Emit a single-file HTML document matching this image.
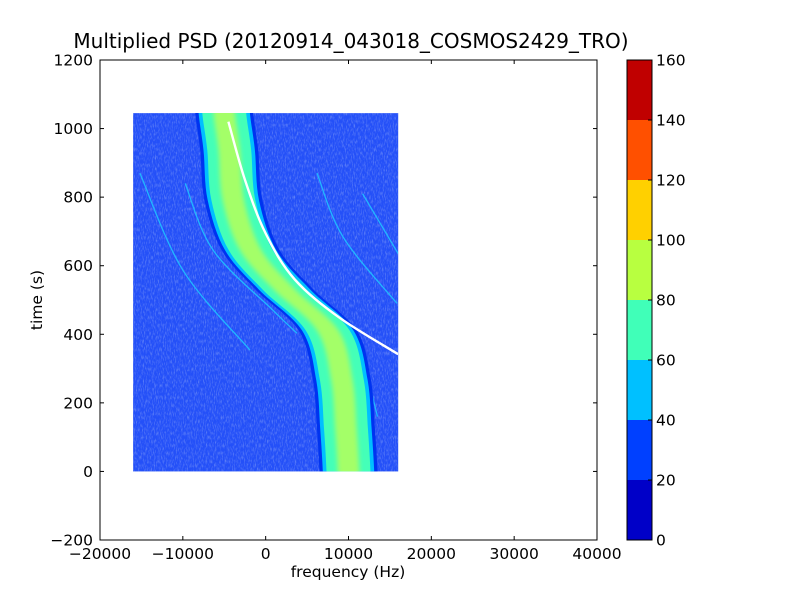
<!DOCTYPE html>
<html><head><meta charset="utf-8"><style>
body{margin:0;background:#fff}
svg{display:block;font-family:"DejaVu Sans","Liberation Sans",sans-serif}
</style></head><body>
<svg id="c" width="800" height="600" xmlns="http://www.w3.org/2000/svg">
<defs>
<filter id="noise" x="0" y="0" width="100%" height="100%">
<feTurbulence type="fractalNoise" baseFrequency="0.9 0.25" numOctaves="2" seed="3"/>
<feColorMatrix type="matrix" values="0 0 0 0 0.3  0 0 0 0 0.42  0 0 0 0 0.92  0 0 0 2.2 -1.0"/>
</filter>
<filter id="blur1"><feGaussianBlur stdDeviation="2.5"/></filter>
<clipPath id="dclip"><rect x="133.5" y="113" width="264.5" height="358.4"/></clipPath>
</defs>
<rect width="800" height="600" fill="#fff"/>
<text x="351" y="48" font-size="20" text-anchor="middle">Multiplied PSD (20120914_043018_COSMOS2429_TRO)</text>
<g id="plot"></g>
<g id="axes"></g>
<g id="cbar"></g>
<text x="348" y="577" font-size="15.5" text-anchor="middle">frequency (Hz)</text>
<text x="42" y="300" font-size="15.5" text-anchor="middle" transform="rotate(-90 42 300)">time (s)</text>
</svg>
<script>
// data
const bandTimes = [0, 121, 267, 411, 530, 645, 791, 937, 1045];
const bandCenters = [10000, 9700, 9200, 7500, 2300, -1800, -3900, -4400, -5000];
const bandHalfWidth = [3500, 3100, 2650, 1300]; // outer->inner layer half widths (Hz)
const bandColors = ["#0033f0", "#00bfff", "#44ffb8", "#a4ff68"];
const whiteFreq = [-4500, -2500, 0, 3500, 9000, 16000];
const whiteTime = [1020, 850, 694, 560, 447, 342];
const faintLines = [
  {f:[-15180,-9990,-1900], t:[870,587,354]},
  {f:[-9720,-6340,880,3780], t:[840,645,470,403]},
  {f:[6200,9330,15860], t:[870,684,490]},
  {f:[11700,16000], t:[810,635]},
  {f:[11300,13500], t:[375,160]}
];
const dataExtentF = [-16000, 16000];
const dataExtentT = [0, 1045];
const xTicks = [-20000,-10000,0,10000,20000,30000,40000];
const yTicks = [-200,0,200,400,600,800,1000,1200];
const cbarLevels = [0,20,40,60,80,100,120,140,160];
const cbarColors = ["#0000c8","#0040ff","#00c0ff","#40ffb8","#b8ff40","#ffd000","#ff5000","#c00000"];

const NS="http://www.w3.org/2000/svg";
const L=100,R=597,T=60,B=540;
const X=f=>L+(f+20000)/60000*(R-L);
const Y=t=>B-(t+200)/1400*(B-T);
function mk(tag,attrs,parent){const e=document.createElementNS(NS,tag);for(const k in attrs)e.setAttribute(k,attrs[k]);parent.appendChild(e);return e;}
const plot=document.getElementById('plot'), axes=document.getElementById('axes'), cb=document.getElementById('cbar');

function cr(pts,move){
  let d=(move?'M':'L')+pts[0][0].toFixed(1)+','+pts[0][1].toFixed(1);
  for(let i=0;i<pts.length-1;i++){
    const p0=pts[Math.max(0,i-1)],p1=pts[i],p2=pts[i+1],p3=pts[Math.min(pts.length-1,i+2)];
    const c1=[p1[0]+(p2[0]-p0[0])/6,p1[1]+(p2[1]-p0[1])/6];
    const c2=[p2[0]-(p3[0]-p1[0])/6,p2[1]-(p3[1]-p1[1])/6];
    d+=' C'+c1[0].toFixed(1)+','+c1[1].toFixed(1)+' '+c2[0].toFixed(1)+','+c2[1].toFixed(1)+' '+p2[0].toFixed(1)+','+p2[1].toFixed(1);
  }
  return d;
}
const bx=X(dataExtentF[0]), by=Y(dataExtentT[1]), bw=X(dataExtentF[1])-bx, bh=Y(dataExtentT[0])-by;
const bg=mk('rect',{x:bx,y:by,width:bw,height:bh,fill:'#2450f8'},plot);


const nz=mk('rect',{x:bx,y:by,width:bw,height:bh,filter:'url(#noise)',opacity:'0.6'},plot);



const g=mk('g',{'clip-path':'url(#dclip)'},plot);
faintLines.forEach((ln,i)=>{
  const p=mk('path',{d:cr(ln.f.map((f,j)=>[X(f),Y(ln.t[j])]),true),fill:'none',stroke:'#20b8ff',"stroke-width":'1.3'},g);
  
  
});
bandHalfWidth.forEach((hw,k)=>{
  const ext=[[bandCenters[0],-60]].concat(bandCenters.map((c,i)=>[c,bandTimes[i]])).concat([[bandCenters[bandCenters.length-1],1110]]);
  const left=ext.map(p=>[X(p[0]-hw),Y(p[1])]);
  const right=ext.map(p=>[X(p[0]+hw),Y(p[1])]).reverse();
  const d=cr(left,true)+' '+cr(right,false)+' Z';
  const attrs={d:d,fill:bandColors[k]};
  if(k===3){attrs.filter='url(#blur1)';}
  const p=mk('path',attrs,g);
  
  
});
const w=mk('path',{d:cr(whiteFreq.map((f,i)=>[X(f),Y(whiteTime[i])]),true),fill:'none',stroke:'#ffffff',"stroke-width":'2.4'},g);



const fr=mk('rect',{x:L,y:T,width:R-L,height:B-T,fill:'none',stroke:'#000'},axes);


xTicks.forEach(v=>{
  const x=X(v);
  mk('line',{x1:x,x2:x,y1:B,y2:B-4,stroke:'#000'},axes);
  mk('line',{x1:x,x2:x,y1:T,y2:T+4,stroke:'#000'},axes);
  const t=mk('text',{x:x,y:B+19,"font-size":'15.5',"text-anchor":'middle'},axes);
  t.textContent=(v<0?'\u2212'+(-v):v);
  
  
});
yTicks.forEach(v=>{
  const y=Y(v);
  mk('line',{x1:L,x2:L+4,y1:y,y2:y,stroke:'#000'},axes);
  mk('line',{x1:R,x2:R-4,y1:y,y2:y,stroke:'#000'},axes);
  const t=mk('text',{x:L-7,y:y+5.5,"font-size":'15.5',"text-anchor":'end'},axes);
  t.textContent=(v<0?'\u2212'+(-v):v);
  
  
});
const CL=627,CR=652;
const CY=v=>B-(v-cbarLevels[0])/(cbarLevels[cbarLevels.length-1]-cbarLevels[0])*(B-T);
cbarColors.forEach((c,i)=>{
  const r=mk('rect',{x:CL,y:CY(cbarLevels[i+1]),width:CR-CL,height:CY(cbarLevels[i])-CY(cbarLevels[i+1]),fill:c},cb);
  
  
});
mk('rect',{x:CL,y:T,width:CR-CL,height:B-T,fill:'none',stroke:'#000'},cb);
cbarLevels.forEach(v=>{
  const y=CY(v);
  mk('line',{x1:CR,x2:CR-4,y1:y,y2:y,stroke:'#000'},cb);
  const t=mk('text',{x:CR+4,y:y+5.5,"font-size":'15.5'},cb);
  t.textContent=v;
  
  
});
</script>
</body></html>
